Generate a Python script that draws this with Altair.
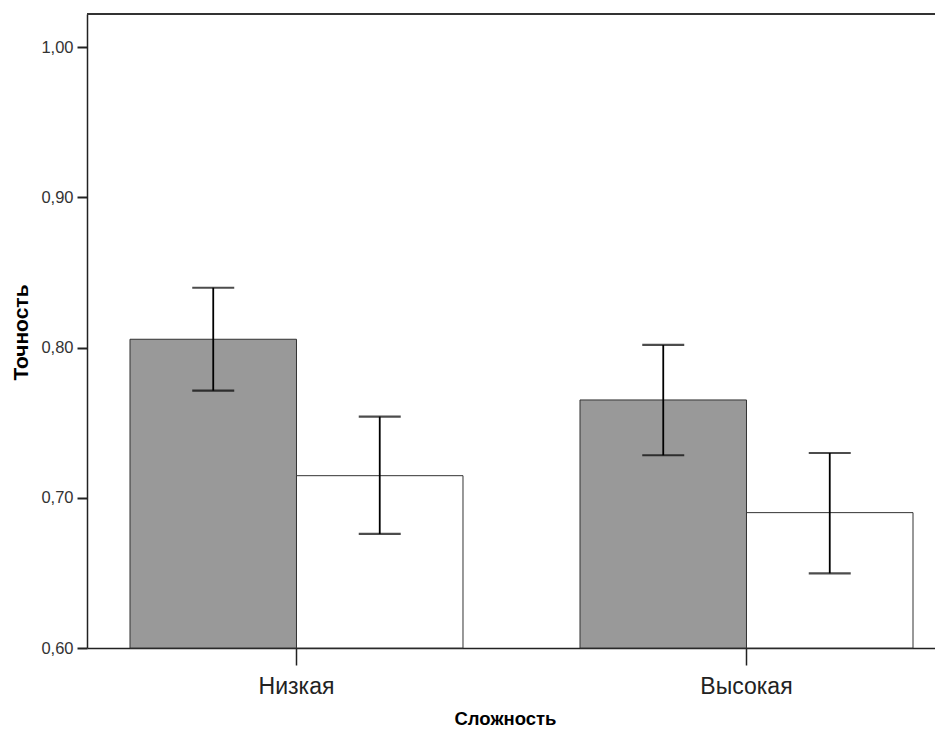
import altair as alt
import pandas as pd

categories = ["Низкая", "Высокая"]
groups = ["Группа 1", "Группа 2"]
means = [0.8055, 0.7147, 0.7651, 0.6901]
lower = [0.7713, 0.6759, 0.7283, 0.6497]
upper = [0.8398, 0.7540, 0.8017, 0.7298]
y_ticks = [0.6, 0.7, 0.8, 0.9, 1.0]

rows = []
i = 0
for c in categories:
    for g in groups:
        rows.append({"Сложность": c, "group": g, "mean": means[i], "lo": lower[i], "hi": upper[i]})
        i += 1
df = pd.DataFrame(rows)

FONT = "Liberation Sans"

x_enc = alt.X(
    "Сложность:N",
    sort=categories,
    scale=alt.Scale(paddingInner=0.26, paddingOuter=0.0722, align=0.6615),
    axis=alt.Axis(
        title="Сложность",
        labelAngle=0,
        labelFont=FONT,
        labelFontSize=23,
        labelColor="#222222",
        labelBaseline="alphabetic",
        labelPadding=28,
        tickSize=17,
        tickColor="#222222",
        tickWidth=1.5,
        domainColor="#222222",
        domainWidth=1.5,
        titleFont=FONT,
        titleFontSize=18.5,
        titleFontWeight="bold",
        titleColor="#000000",
        titleBaseline="alphabetic",
        titleX=418,
        titleY=76,
    ),
)
xo_enc = alt.XOffset("group:N", sort=groups, scale=alt.Scale(paddingInner=0, paddingOuter=0))
y_scale = alt.Scale(domain=[0.6, 1.022], nice=False, zero=False)

bars = alt.Chart(df).mark_bar(stroke="#333333", strokeWidth=1).encode(
    x=x_enc,
    xOffset=xo_enc,
    y=alt.Y(
        "mean:Q",
        scale=y_scale,
        axis=alt.Axis(
            title="Точность",
            values=y_ticks,
            labelExpr="replace(format(datum.value, '.2f'), '.', ',')",
            labelFont=FONT,
            labelFontSize=16.5,
            labelColor="#333333",
            labelPadding=4,
            tickSize=10,
            tickColor="#222222",
            tickWidth=2,
            domainColor="#222222",
            domainWidth=1.5,
            grid=False,
            titleFont=FONT,
            titleFontSize=21,
            titleFontWeight="bold",
            titleColor="#000000",
            titleAngle=270,
            titleAlign="center",
            titleBaseline="middle",
            titleX=-66,
            titleY=318,
        ),
    ),
    y2=alt.datum(0.6),
    fill=alt.Fill("group:N", sort=groups, scale=alt.Scale(domain=groups, range=["#999999", "#ffffff"]), legend=None),
)

err = alt.Chart(df).mark_rule(color="#000000", strokeWidth=1.8).encode(
    x=alt.X("Сложность:N", sort=categories),
    xOffset=alt.XOffset("group:N", sort=groups),
    y=alt.Y("lo:Q", scale=y_scale),
    y2="hi:Q",
)

cap_lo = alt.Chart(df).mark_tick(color="#000000", thickness=2.2, size=42, orient="horizontal").encode(
    x=alt.X("Сложность:N", sort=categories),
    xOffset=alt.XOffset("group:N", sort=groups),
    y=alt.Y("lo:Q", scale=y_scale),
)
cap_hi = alt.Chart(df).mark_tick(color="#000000", thickness=2.2, size=42, orient="horizontal").encode(
    x=alt.X("Сложность:N", sort=categories),
    xOffset=alt.XOffset("group:N", sort=groups),
    y=alt.Y("hi:Q", scale=y_scale),
)

top_line = alt.Chart(df).mark_rule(color="#333333", strokeWidth=1.5).encode(y=alt.value(0))

chart = (
    alt.layer(bars, err, cap_lo, cap_hi, top_line)
    .properties(
        width=848,
        height=634,
        autosize=alt.AutoSizeParams(type="none"),
        padding={"left": 79, "top": 6, "right": 0, "bottom": 80},
        background="#ffffff",
    )
    .configure_view(stroke=None)
)

chart.save("out.html", embed_options={"renderer": "svg", "actions": False})
